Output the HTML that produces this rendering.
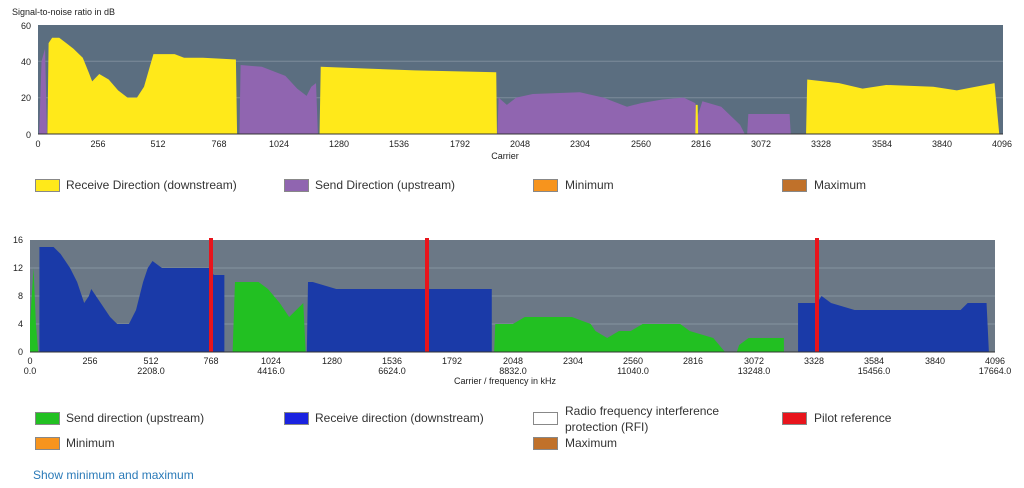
<!DOCTYPE html>
<html><head><style>
body{margin:0;width:1024px;height:488px;background:#fff;font-family:"Liberation Sans",sans-serif;overflow:hidden;position:relative}
svg{position:absolute;left:0;top:0}
.lg{position:absolute;font-size:12px;color:#333}
.sw{position:absolute;width:23px;height:11px;border:1px solid #888}
</style></head><body>
<svg width="1024" height="488" font-family="Liberation Sans, sans-serif" font-size="9" fill="#222">
<text x="12" y="15" font-size="9">Signal-to-noise ratio in dB</text>
<rect x="38" y="25" width="965" height="109" fill="#5b6e80"/>
<g stroke="#7c8c9a" stroke-width="1"><line x1="38" x2="1003" y1="61.3" y2="61.3"/><line x1="38" x2="1003" y1="97.7" y2="97.7"/></g>
<g transform="translate(38,134) scale(0.2356,-1.8167)">
<polygon fill="#9065b0" points="5,0 15,40 30,47 38,0"/>
<polygon fill="#ffe91a" points="40,0 45,50 60,53 90,53 120,50 150,47 190,42 215,34 230,29 260,33 300,30 340,24 380,20 420,20 450,26 470,35 490,44 580,44 620,42 700,42 840,41 845,0"/>
<polygon fill="#9065b0" points="855,0 860,38 950,37 1050,32 1100,25 1140,21 1160,26 1180,28 1188,0"/>
<polygon fill="#ffe91a" points="1195,0 1200,37 1400,36 1600,35 1945,34 1948,0"/>
<polygon fill="#9065b0" points="1950,0 1955,20 1990,16 2030,20 2100,22 2300,23 2400,20 2500,15 2560,17 2650,19 2740,20 2790,17 2800,10 2820,18 2900,15 2980,5 3000,0"/>
<polygon fill="#ffe91a" points="2790,0 2792,16 2800,16 2802,0"/>
<polygon fill="#9065b0" points="3010,0 3015,11 3190,11 3195,0"/>
<polygon fill="#ffe91a" points="3260,0 3265,30 3400,28 3500,25 3600,27 3800,26 3900,24 4060,28 4080,0"/>
</g>
<line x1="38" x2="1003" y1="134" y2="134" stroke="#333"/>
<g text-anchor="end"><text x="31" y="29">60</text><text x="31" y="65">40</text><text x="31" y="101">20</text><text x="31" y="138">0</text></g>
<g text-anchor="middle">
<text x="38" y="147">0</text><text x="98" y="147">256</text><text x="158" y="147">512</text><text x="219" y="147">768</text><text x="279" y="147">1024</text><text x="339" y="147">1280</text><text x="399" y="147">1536</text><text x="460" y="147">1792</text><text x="520" y="147">2048</text><text x="580" y="147">2304</text><text x="641" y="147">2560</text><text x="701" y="147">2816</text><text x="761" y="147">3072</text><text x="821" y="147">3328</text><text x="882" y="147">3584</text><text x="942" y="147">3840</text><text x="1002" y="147">4096</text>
<text x="505" y="159">Carrier</text>
</g>

<text x="30" y="247">Bits</text>
<rect x="30" y="240" width="965" height="112" fill="#6b7886"/>
<g stroke="#8593a0"><line x1="30" x2="995" y1="268" y2="268"/><line x1="30" x2="995" y1="296" y2="296"/><line x1="30" x2="995" y1="324" y2="324"/></g>
<g transform="translate(30,352) scale(0.2356,-7)">
<polygon fill="#22c022" points="0,0 0,4 15,12 25,4 35,0"/>
<polygon fill="#1a3aa8" points="40,0 40,15 100,15 130,14 170,12 200,10 230,7 250,8 260,9 280,8 300,7 320,6 340,5 370,4 420,4 450,6 480,10 500,12 520,13 560,12 700,12 760,12 780,11 825,11 825,0"/>
<polygon fill="#22c022" points="860,0 870,10 970,10 1010,9 1060,7 1100,5 1130,6 1160,7 1170,0"/>
<polygon fill="#1a3aa8" points="1175,0 1180,10 1200,10 1300,9 1960,9 1960,0"/>
<polygon fill="#22c022" points="1970,0 1975,4 2050,4 2100,5 2300,5 2380,4 2400,3 2450,2 2500,3 2550,3 2600,4 2760,4 2800,3 2900,2 2950,0"/>
<polygon fill="#22c022" points="3000,0 3010,1 3050,2 3200,2 3200,0"/>
<polygon fill="#1a3aa8" points="3260,0 3260,7 3340,7 3360,8 3400,7 3500,6 3700,6 3950,6 3980,7 4060,7 4070,0"/>
</g>
<g fill="#e8141c"><rect x="209" y="238" width="4" height="114"/><rect x="425" y="238" width="4" height="114"/><rect x="815" y="238" width="4" height="114"/></g>
<line x1="30" x2="995" y1="352" y2="352" stroke="#333"/>
<g text-anchor="end"><text x="23" y="243">16</text><text x="23" y="271">12</text><text x="23" y="299">8</text><text x="23" y="327">4</text><text x="23" y="355">0</text></g>
<g text-anchor="middle">
<text x="30" y="364">0</text><text x="90" y="364">256</text><text x="151" y="364">512</text><text x="211" y="364">768</text><text x="271" y="364">1024</text><text x="332" y="364">1280</text><text x="392" y="364">1536</text><text x="452" y="364">1792</text><text x="513" y="364">2048</text><text x="573" y="364">2304</text><text x="633" y="364">2560</text><text x="693" y="364">2816</text><text x="754" y="364">3072</text><text x="814" y="364">3328</text><text x="874" y="364">3584</text><text x="935" y="364">3840</text><text x="995" y="364">4096</text>
<text x="30" y="374">0.0</text><text x="151" y="374">2208.0</text><text x="271" y="374">4416.0</text><text x="392" y="374">6624.0</text><text x="513" y="374">8832.0</text><text x="633" y="374">11040.0</text><text x="754" y="374">13248.0</text><text x="874" y="374">15456.0</text><text x="995" y="374">17664.0</text>
<text x="505" y="384">Carrier / frequency in kHz</text>
</g>
</svg>

<div class="sw" style="left:35px;top:179px;background:#ffe91a"></div><div class="lg" style="left:66px;top:178px">Receive Direction (downstream)</div>
<div class="sw" style="left:284px;top:179px;background:#9065b0"></div><div class="lg" style="left:315px;top:178px">Send Direction (upstream)</div>
<div class="sw" style="left:533px;top:179px;background:#f7941d"></div><div class="lg" style="left:565px;top:178px">Minimum</div>
<div class="sw" style="left:782px;top:179px;background:#c0712a"></div><div class="lg" style="left:814px;top:178px">Maximum</div>

<div class="sw" style="left:35px;top:412px;background:#22c022"></div><div class="lg" style="left:66px;top:411px">Send direction (upstream)</div>
<div class="sw" style="left:284px;top:412px;background:#1a22e0"></div><div class="lg" style="left:315px;top:411px">Receive direction (downstream)</div>
<div class="sw" style="left:533px;top:412px;background:#fff"></div><div class="lg" style="left:565px;top:403px;line-height:16px">Radio frequency interference<br>protection (RFI)</div>
<div class="sw" style="left:782px;top:412px;background:#e8141c"></div><div class="lg" style="left:814px;top:411px">Pilot reference</div>
<div class="sw" style="left:35px;top:437px;background:#f7941d"></div><div class="lg" style="left:66px;top:436px">Minimum</div>
<div class="sw" style="left:533px;top:437px;background:#c0712a"></div><div class="lg" style="left:565px;top:436px">Maximum</div>
<div class="lg" style="left:33px;top:468px;color:#2a7ab8">Show minimum and maximum</div>
</body></html>
